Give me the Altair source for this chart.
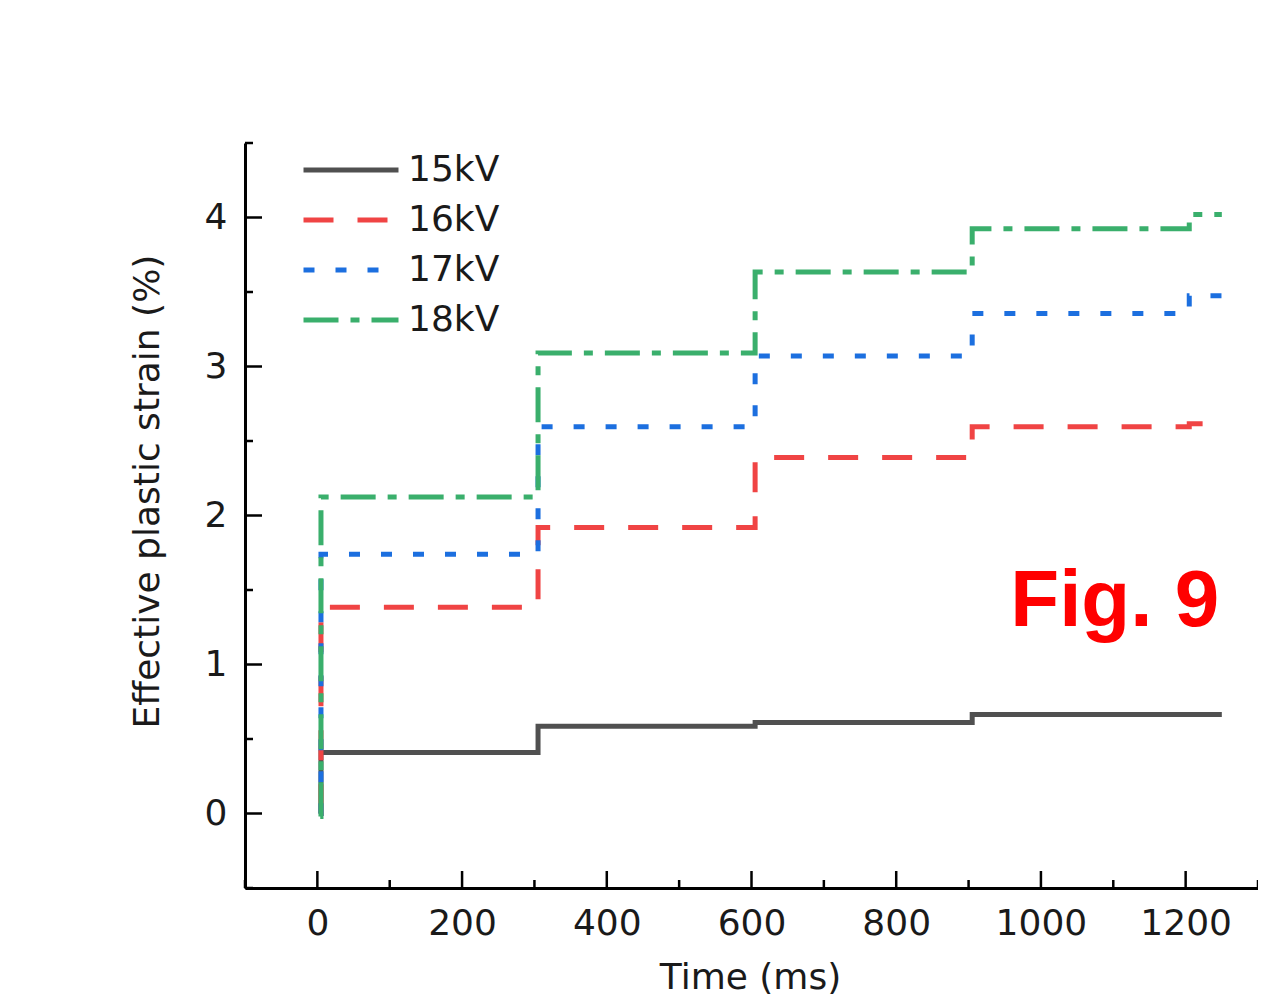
import altair as alt
import pandas as pd

# ---- data ----
series_names = ["15kV", "16kV", "17kV", "18kV"]
time_ms = [4, 5, 305, 605, 905, 1205, 1250]
strain_15kV = [0.0, 0.41, 0.585, 0.61, 0.665, 0.665, 0.665]
strain_16kV = [0.0, 1.385, 1.92, 2.39, 2.595, 2.615, 2.615]
strain_17kV = [0.0, 1.74, 2.595, 3.07, 3.355, 3.475, 3.475]
strain_18kV = [-0.02, 2.125, 3.09, 3.635, 3.925, 4.02, 4.02]

x_major_ticks = [0, 200, 400, 600, 800, 1000, 1200]
x_minor_ticks = [-100, 100, 300, 500, 700, 900, 1100, 1300]
y_major_ticks = [0, 1, 2, 3, 4]
y_minor_ticks = [-0.5, 0.5, 1.5, 2.5, 3.5, 4.5]

fig_label = ["Fig. 9"]
fig_label_x = [1102]
fig_label_y = [1.42]

colors = ["#505050", "#f04444", "#1c6fdf", "#3aaf6c"]
dashes = [[1, 0], [30, 24], [11, 21], [35, 12, 9, 12]]

W, H = 1013, 745
FONT = "DejaVu Sans"

rows = []
for name, vals in zip(series_names, [strain_15kV, strain_16kV, strain_17kV, strain_18kV]):
    for t, v in zip(time_ms, vals):
        rows.append({"series": name, "time": t, "strain": v})
df = pd.DataFrame(rows)

xscale = alt.Scale(domain=[-100, 1300], nice=False, zero=False)
yscale = alt.Scale(domain=[-0.5, 4.5], nice=False, zero=False)

x_axis = alt.Axis(values=x_major_ticks, format="d", title="Time (ms)", grid=False, ticks=False,
                  labelPadding=18, domainColor="black", domainWidth=3,
                  labelFont=FONT, labelFontSize=36, labelColor="#1a1a1a",
                  titleFont=FONT, titleFontSize=36, titleFontWeight="normal",
                  titleColor="#1a1a1a", titleX=505, titleY=72, titleBaseline="top")
y_axis = alt.Axis(values=y_major_ticks, format="d", title="Effective plastic strain (%)", grid=False,
                  ticks=False, labelPadding=18, domainColor="black", domainWidth=3,
                  labelFont=FONT, labelFontSize=36, labelColor="#1a1a1a",
                  titleFont=FONT, titleFontSize=36, titleFontWeight="normal",
                  titleColor="#1a1a1a", titleX=-79, titleY=348)

# long horizontal line symbol (path scaled by sqrt(size)/2)
legend = alt.Legend(orient="none", legendX=88, legendY=9, symbolType="M-5,0L5,0",
                    symbolSize=361, symbolStrokeWidth=5, labelFont=FONT,
                    labelFontSize=36, labelColor="#1a1a1a", labelOffset=39,
                    rowPadding=14, padding=0, title=None)

lines = alt.Chart(df).mark_line(strokeWidth=5, interpolate="step-after").encode(
    x=alt.X("time:Q", scale=xscale, axis=x_axis),
    y=alt.Y("strain:Q", scale=yscale, axis=y_axis),
    color=alt.Color("series:N", scale=alt.Scale(domain=series_names, range=colors), legend=legend),
    strokeDash=alt.StrokeDash("series:N", scale=alt.Scale(domain=series_names, range=dashes), legend=legend),
    order=alt.Order("series:N"),
)

def xticks(vals, length):
    return alt.Chart(pd.DataFrame({"tick": vals})).mark_rule(color="black", strokeWidth=2.5).encode(
        x=alt.X("tick:Q", scale=xscale, axis=x_axis), y=alt.value(H), y2=alt.value(H - length))

def yticks(vals, length):
    return alt.Chart(pd.DataFrame({"tick": vals})).mark_rule(color="black", strokeWidth=2.5).encode(
        y=alt.Y("tick:Q", scale=yscale, axis=y_axis), x=alt.value(0), x2=alt.value(length))

fig_text = alt.Chart(pd.DataFrame({"label": fig_label, "x": fig_label_x, "y": fig_label_y})).mark_text(
    font="Liberation Sans", fontWeight="bold", fontSize=80, color="#ff0000", align="center", baseline="middle"
).encode(x=alt.X("x:Q", scale=xscale, axis=x_axis), y=alt.Y("y:Q", scale=yscale, axis=y_axis), text="label:N")

chart = alt.layer(lines, xticks(x_major_ticks, 17), xticks(x_minor_ticks, 8),
                  yticks(y_major_ticks, 17), yticks(y_minor_ticks, 8), fig_text).properties(
    width=W, height=H,
    background="white",
    autosize=alt.AutoSizeParams(type="none"),
    padding={"left": 237, "top": 135, "right": 0, "bottom": 110},
).configure_view(strokeWidth=0)

chart.save("out.html", embed_options={"renderer": "svg", "actions": False})
